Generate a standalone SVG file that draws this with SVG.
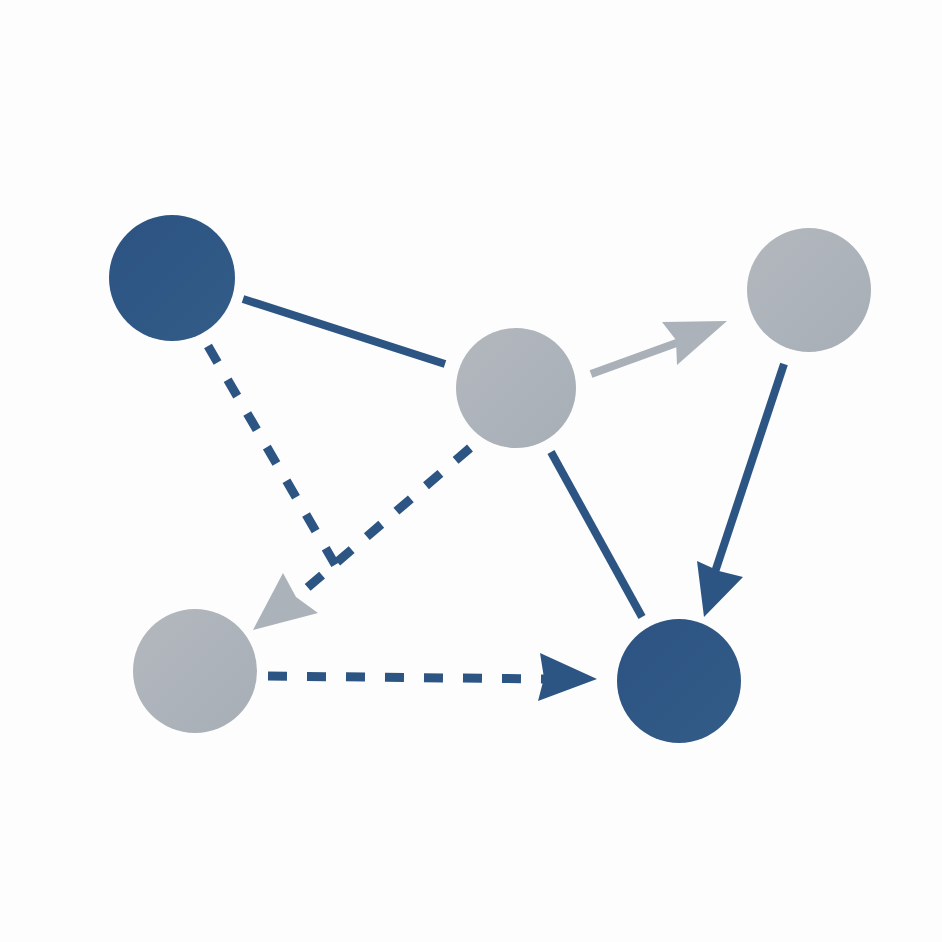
<svg xmlns="http://www.w3.org/2000/svg" width="942" height="942" viewBox="0 0 942 942">
<defs>
<linearGradient id="gDark" x1="0" y1="0" x2="1" y2="1"><stop offset="0" stop-color="#2c5383"/><stop offset="1" stop-color="#335c87"/></linearGradient>
<linearGradient id="gGray" x1="0" y1="0" x2="1" y2="1"><stop offset="0" stop-color="#b3b8be"/><stop offset="1" stop-color="#a7aeb6"/></linearGradient>
</defs>
<style>
.dark{fill:url(#gDark)}
.gray{fill:url(#gGray)}
.ln{stroke:#2d5583;stroke-width:8;fill:none}
.lg{stroke:#a9b0b8;stroke-width:8;fill:none}
.dash{stroke-dasharray:19 20;stroke-width:9}
.ahd{fill:#2d5583}
.ahg{fill:#abb2ba}
</style>
<rect width="942" height="942" fill="#fdfdfd"/>
<g id="connectors">
<line class="ln" x1="243" y1="299" x2="445" y2="364"/>
<line class="ln dash" x1="208" y1="346" x2="336" y2="566"/>
<line class="ln dash" x1="470" y1="448" x2="300" y2="594"/>
<polygon class="ahg" points="253,630 283,573 296,597 318,613"/>
<line class="lg" x1="591" y1="374" x2="682" y2="341"/>
<polygon class="ahg" points="727,321 662,322 676,340 677,365"/>
<line class="ln" x1="784" y1="364" x2="714" y2="575"/>
<polygon class="ahd" points="704,617 697,561 719,571 743,577"/>
<line class="ln dash" x1="268" y1="676" x2="545" y2="679"/>
<polygon class="ahd" points="597,679 540,653 544,678 538,701"/>
<line class="ln" x1="551" y1="452" x2="642" y2="617"/>
</g>
<g id="nodeA"><circle class="dark" cx="172" cy="278" r="63"/></g>
<g id="nodeB"><circle class="gray" cx="516" cy="388" r="60"/></g>
<g id="nodeC"><circle class="gray" cx="809" cy="290" r="62"/></g>
<g id="nodeD"><circle class="gray" cx="195" cy="671" r="62"/></g>
<g id="nodeE"><circle class="dark" cx="679" cy="681" r="62"/></g>
</svg>
